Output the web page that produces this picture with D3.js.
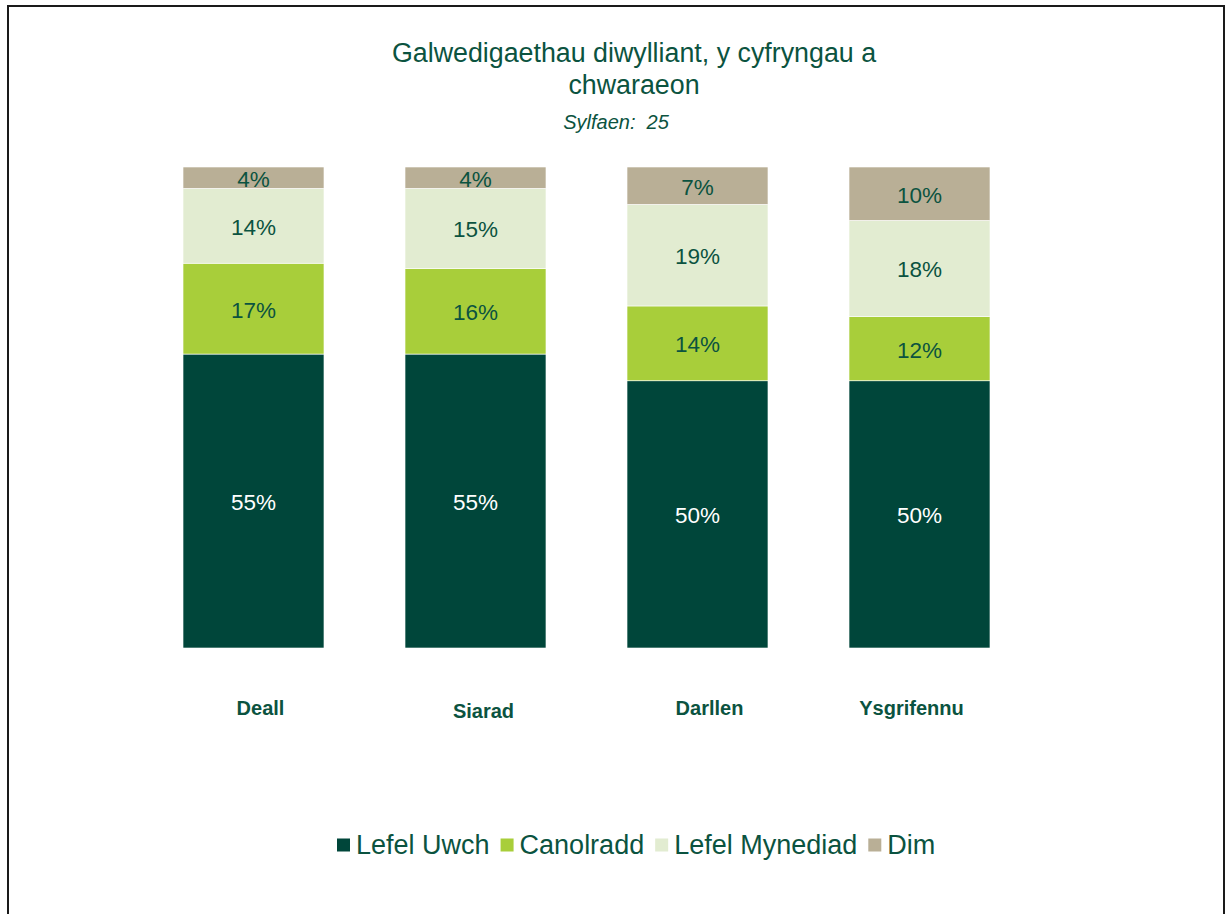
<!DOCTYPE html>
<html>
<head>
<meta charset="utf-8">
<script src="https://cdn.jsdelivr.net/npm/d3@7"></script>
<style>
  html, body { margin: 0; padding: 0; background: #fff; }
  svg { display: block; font-family: "Liberation Sans", Arial, sans-serif; }
</style>
</head>
<body>
<svg id="chart" width="1227" height="914"></svg>
<script>
// ---- data ----
const categories = ["Deall", "Siarad", "Darllen", "Ysgrifennu"];
const seriesNames = ["Lefel Uwch", "Canolradd", "Lefel Mynediad", "Dim"];
const lefelUwch     = [55, 55, 50, 50];
const canolradd     = [17, 16, 14, 12];
const lefelMynediad = [14, 15, 19, 18];
const dim           = [4, 4, 7, 10];
const titleLines = ["Galwedigaethau diwylliant, y cyfryngau a", "chwaraeon"];
const subtitle = "Sylfaen:  25";

// ---- style ----
const colors = ["#00463A", "#A8CE3A", "#E2ECD1", "#B9AF96"];
const labelColors = ["#ffffff", "#0B5340", "#0B5340", "#0B5340"];
const textColor = "#0B5340";
const catLabelDx = [7, 8, 12, -8];
const catLabelDy = [0, 3, 0, 0];

const seriesValues = [lefelUwch, canolradd, lefelMynediad, dim];
const rows = categories.map((c, i) => {
  const r = { category: c };
  seriesNames.forEach((s, j) => r[s] = seriesValues[j][i]);
  return r;
});

const svg = d3.select("#chart");

// border
svg.append("rect")
  .attr("x", 8).attr("y", 6)
  .attr("width", 1216).attr("height", 940)
  .attr("fill", "none").attr("stroke", "#1a1a1a").attr("stroke-width", 2);

// title
const title = svg.append("text")
  .attr("text-anchor", "middle")
  .attr("fill", textColor)
  .style("font-size", "26.8px");
titleLines.forEach((t, i) => {
  title.append("tspan").attr("x", 634).attr("y", 62 + i * 32).text(t);
});
svg.append("text")
  .attr("x", 616).attr("y", 129)
  .attr("text-anchor", "middle")
  .attr("fill", textColor)
  .style("font-size", "20px").style("font-style", "italic")
  .attr("xml:space", "preserve")
  .text(subtitle);

// scales
const x = d3.scaleBand()
  .domain(categories)
  .range([142.5, 1030.5])
  .paddingInner(0.365)
  .paddingOuter(0.1825);
const y = d3.scaleLinear().domain([0, 1]).range([648, 167]);

const stack = d3.stack().keys(seriesNames).offset(d3.stackOffsetExpand);
const stacked = stack(rows);

const groups = svg.append("g").selectAll("g")
  .data(stacked)
  .join("g")
  .attr("fill", (d, i) => colors[i]);

groups.selectAll("rect")
  .data(d => d)
  .join("rect")
  .attr("x", d => x(d.data.category))
  .attr("width", x.bandwidth())
  .attr("y", d => y(d[1]))
  .attr("height", d => y(d[0]) - y(d[1]))
  .attr("stroke", "#ffffff")
  .attr("stroke-width", 0.6);

// data labels
stacked.forEach((s, i) => {
  svg.append("g").selectAll("text")
    .data(s)
    .join("text")
    .attr("x", d => x(d.data.category) + x.bandwidth() / 2)
    .attr("y", d => (y(d[0]) + y(d[1])) / 2 + 1)
    .attr("dy", "0.35em")
    .attr("text-anchor", "middle")
    .attr("fill", labelColors[i])
    .style("font-size", "22.5px")
    .text(d => d.data[s.key] + "%");
});

// category labels
svg.append("g").selectAll("text")
  .data(categories)
  .join("text")
  .attr("x", (d, i) => x(d) + x.bandwidth() / 2 + catLabelDx[i])
  .attr("y", (d, i) => 715 + catLabelDy[i])
  .attr("text-anchor", "middle")
  .attr("fill", textColor)
  .style("font-size", "20px").style("font-weight", "bold")
  .text(d => d);

// legend
const legend = svg.append("g");
let lx = 337;
const ly = 845;
seriesNames.forEach((name, i) => {
  legend.append("rect")
    .attr("x", lx).attr("y", ly - 6.5)
    .attr("width", 13).attr("height", 13)
    .attr("fill", colors[i]);
  const t = legend.append("text")
    .attr("x", lx + 19).attr("y", ly)
    .attr("dy", "0.35em")
    .attr("fill", textColor)
    .style("font-size", "27px")
    .text(name);
  const w = t.node().getComputedTextLength();
  lx = lx + 19 + w + 11;
});
</script>
</body>
</html>
